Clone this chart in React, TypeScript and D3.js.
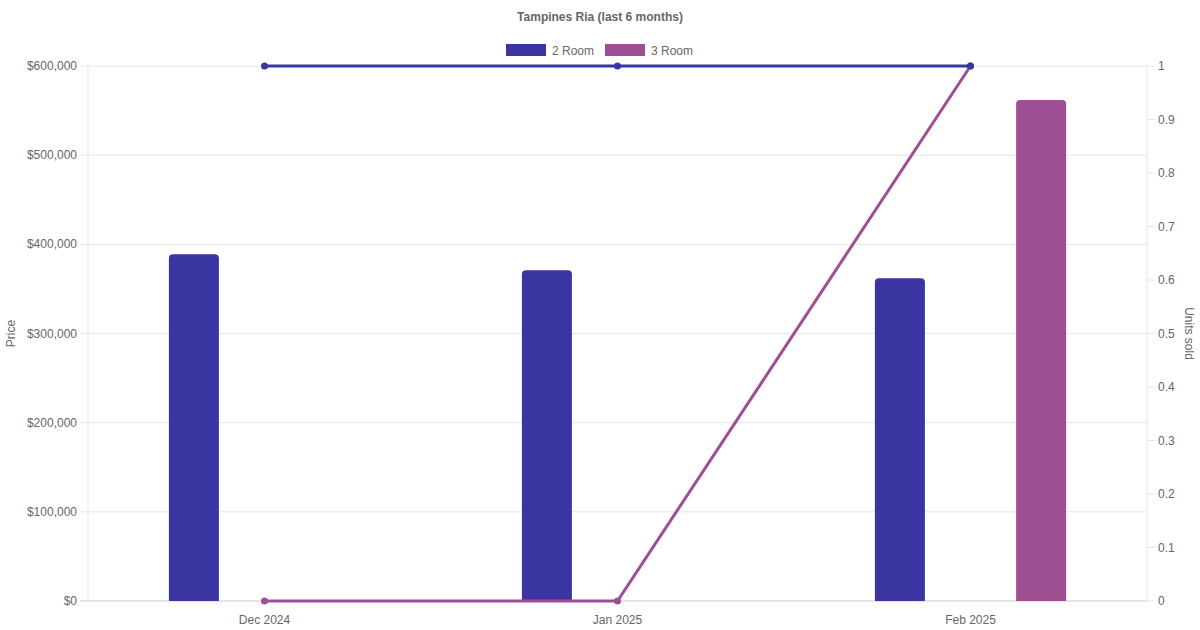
import React from "react";
import * as d3 from "d3";

const categories = ["Dec 2024", "Jan 2025", "Feb 2025"];
const seriesNames = ["2 Room", "3 Room"];
const price2Room: (number | null)[] = [389000, 371000, 362000];
const price3Room: (number | null)[] = [null, null, 562000];
const units2Room = [1, 1, 1];
const units3Room = [0, 0, 1];
const priceTicks = [0, 100000, 200000, 300000, 400000, 500000, 600000];
const unitTicks = [0, 0.1, 0.2, 0.3, 0.4, 0.5, 0.6, 0.7, 0.8, 0.9, 1];

const C2 = "#3a35a0";
const C3 = "#9e4f94";
const TXT = "#666";
const GRID = "#e5e5e5";
const FONT = "'Liberation Sans', Arial, Helvetica, sans-serif";

export default function App() {
  const W = 1200, H = 630;
  const left = 88, right = 1147, top = 66, bottom = 601;
  const x = d3.scaleBand().domain(categories).range([left, right]).padding(0);
  const yP = d3.scaleLinear().domain([0, 600000]).range([bottom, top]);
  const yU = d3.scaleLinear().domain([0, 1]).range([bottom, top]);
  const bw = x.bandwidth();
  const slot = (bw * 0.8) / 2;
  const barW = 50;
  const fmt = (v: number) => "$" + d3.format(",")(v);
  const barPath = (cx: number, v: number) => {
    const y0 = yP(0), y1 = yP(v), r = 4;
    const x0 = cx - barW / 2, x1 = cx + barW / 2;
    return `M${x0},${y0}V${y1 + r}Q${x0},${y1} ${x0 + r},${y1}H${x1 - r}Q${x1},${y1} ${x1},${y1 + r}V${y0}Z`;
  };
  const line = d3.line<number>().x((_, i) => x(categories[i])! + bw / 2).y(d => yU(d));
  const bars = [
    { vals: price2Room, color: C2, off: -slot / 2 },
    { vals: price3Room, color: C3, off: slot / 2 },
  ];
  // drawn in reverse dataset order so the first series sits on top
  const lines = [
    { vals: units3Room, color: C3 },
    { vals: units2Room, color: C2 },
  ];
  return (
    <svg width={W} height={H} style={{ position: "absolute", left: 0, top: 0 }} fontFamily={FONT}>
      <rect width={W} height={H} fill="#fff" />
      <text x={600} y={21} textAnchor="middle" fontSize={12} fontWeight="bold" fill={TXT}>Tampines Ria (last 6 months)</text>
      {/* legend */}
      <rect x={506} y={44} width={40} height={12} fill={C2} />
      <text x={552} y={54.5} fontSize={12} fill={TXT}>{seriesNames[0]}</text>
      <rect x={605} y={44} width={40} height={12} fill={C3} />
      <text x={651} y={54.5} fontSize={12} fill={TXT}>{seriesNames[1]}</text>
      {/* grid */}
      {priceTicks.map(t => (
        <g key={t}>
          <line x1={left - 8} x2={right} y1={yP(t)} y2={yP(t)} stroke={t === 0 ? "#ccc" : GRID} />
          <text x={77} y={yP(t) + 4} textAnchor="end" fontSize={12} fill={TXT}>{fmt(t)}</text>
        </g>
      ))}
      {unitTicks.map(t => (
        <g key={t}>
          <line x1={right} x2={right + 8} y1={yU(t)} y2={yU(t)} stroke={GRID} />
          <text x={1158} y={yU(t) + 4} fontSize={12} fill={TXT}>{t}</text>
        </g>
      ))}
      <line x1={left} x2={left} y1={top} y2={bottom} stroke={GRID} />
      <line x1={right} x2={right} y1={top} y2={bottom} stroke={GRID} />
      {categories.map(c => (
        <text key={c} x={x(c)! + bw / 2} y={624} textAnchor="middle" fontSize={12} fill={TXT}>{c}</text>
      ))}
      <text transform={`translate(15,${(top + bottom) / 2}) rotate(-90)`} textAnchor="middle" fontSize={12} fill={TXT}>Price</text>
      <text transform={`translate(1185,${(top + bottom) / 2}) rotate(90)`} textAnchor="middle" fontSize={12} fill={TXT}>Units sold</text>
      {/* bars */}
      {bars.map((b, bi) => b.vals.map((v, i) => v == null ? null : (
        <path key={`${bi}-${i}`} d={barPath(x(categories[i])! + bw / 2 + b.off, v)} fill={b.color} />
      )))}
      {/* lines */}
      {lines.map((l, li) => (
        <g key={li}>
          <path d={line(l.vals)!} fill="none" stroke={l.color} strokeWidth={3} />
          {l.vals.map((v, i) => (
            <circle key={i} cx={x(categories[i])! + bw / 2} cy={yU(v)} r={3.5} fill={l.color} />
          ))}
        </g>
      ))}
    </svg>
  );
}
